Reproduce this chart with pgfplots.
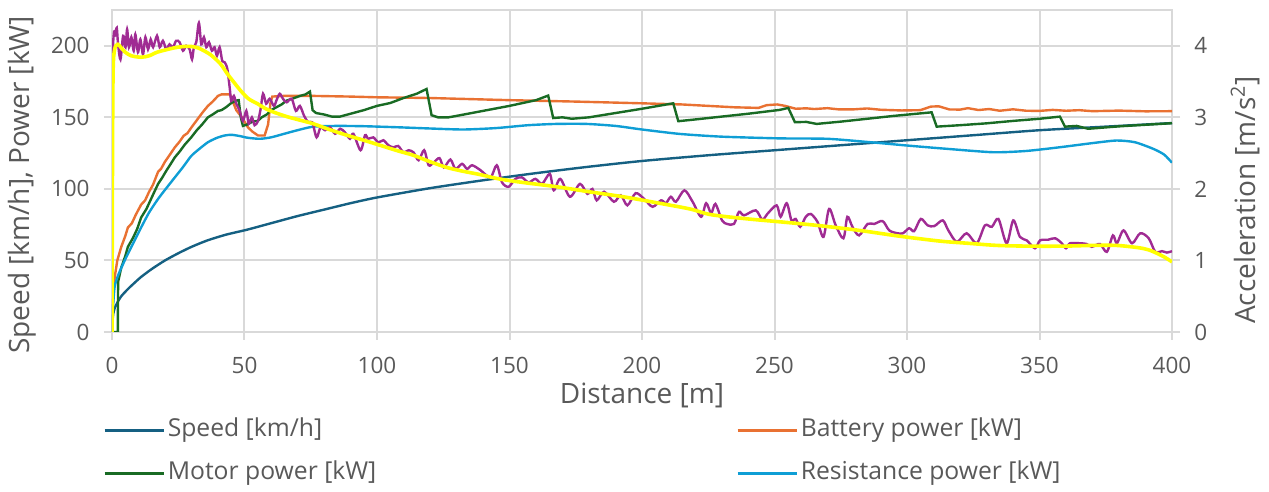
\documentclass[border=0pt]{standalone}
\usepackage{pgfplots}
\pgfplotsset{compat=1.18}
\usepackage{pgfplotstable}
\usepackage{fontspec}
\setmainfont{Open Sans}
\definecolor{cSpeed}{HTML}{156082}
\definecolor{cBatt}{HTML}{E97132}
\definecolor{cMotor}{HTML}{196B24}
\definecolor{cRes}{HTML}{0F9ED5}
\definecolor{cPurp}{HTML}{A02B93}
\definecolor{cYel}{HTML}{FFFF00}
\definecolor{cGrid}{HTML}{D9D9D9}
\definecolor{cText}{HTML}{595959}

\pgfplotstableread{
x y
0 0
0.2 8
0.5 13
1 16.5
2 20.5
3.5 25
6 30
8 33.5
11 38.5
15 44
20 50
25 55
30 59.5
36 64
43 68
51 71.5
60 76
70 81
80 85.5
90 90
100 94
120 100.5
140 106
160 111
180 115.5
200 119.5
225 123.5
250 127
275 130.5
300 134
325 137.5
350 141
375 143.5
400 146
}\speed

\pgfplotstableread{
x y
0 0
0.3 18
0.7 32
1 38
2 50
3.5 59.5
5 67
6 73
7.5 76
9 82
11 89
12.5 92
14 98
15.5 103
17.4 112
18.5 114
20 119
21.5 123
23.7 129
25.5 133
27 137
28.5 139
30 143
32 148
34 153
36.2 158
38 161
40 165
41.3 166
44.5 166
46.9 155
49 150
51.3 143
53 140
55.1 137.3
57.6 137.3
58.9 145
59.8 160
60.5 164.5
65 165
75 165
90 164.5
100 164
120 163.5
150 162
175 161
200 159.8
215 159
225 158
235 157
244 156.6
247 158.5
251 159
254 158
258 156
262 156.3
265 155.8
270 156.4
274 155.6
280 155.6
285 156.2
290 155.3
298 154.8
305 155
309 157.5
312 157.7
316 155.5
320 155.4
323 156.4
327 155.1
331 155.8
335 154.6
340 155.6
345 154.6
350 154.5
355 155.2
360 154.6
365 155
370 154.3
380 154.7
390 154.2
400 154.3
}\batt

\pgfplotstableread{
x y
0 0
2.2 0
2.3 35
3.5 45
5 53
6 59.5
8 66
9.5 72
11 80
13 86
14.5 92
16 98
17.4 103.5
19 108
20.6 113
22 117
23.7 122
25.5 126
27.5 131
29.9 136
32 141
34 145
36.2 150
38 152
40 154.5
41.3 155
43 157
45 160
46.9 161.7
47.8 162
48.6 150
49.4 144
51 145
53 147
55 147.5
56.5 150
58.4 152
60 155
62 157
64 159
65.9 161.7
68 163
71 165
73 166
74.7 168
75.7 155
77 153
80 152
83 150.5
86 150.5
90 152.5
95 155
100 158
105 160
110 163.5
115 166.5
118.7 169.8
120.6 151.5
123 150
127 150
130 151
140 154.5
150 158
160 162
164.6 165.2
166.5 149.5
170 150
173.5 149
180 150
190 153
200 156
211.8 159.8
213.7 147.3
220 148.5
230 150.5
240 152.5
252 155.2
255.2 156.6
257.7 146.6
262 146.8
265.9 145.4
275 147
285 149
295 151
309.3 153.5
311.2 143.5
320 144.5
330 145.8
340 147.5
350 149
357.7 150.5
359.6 143.5
364 144
368.4 142
380 143.7
390 144.8
400 145.9
}\motor

\pgfplotstableread{
x y
0 0
0.3 15
1 31.6
2.4 40
4.8 50
8 62
11.1 73.4
14 83.5
17.4 93
20.5 100.5
23.7 108
26.9 115.5
29.9 123
33 128
36.2 132.6
39.5 135.6
42.5 137.3
45 137.8
48 137
51.3 135.7
55.8 135
60 136
64.6 138.3
70 141
76 143.5
85 144
95 143.8
108.7 143
120 142.2
132.6 141.5
145 142.5
157 144.5
167.8 145.4
179 145.4
190 144
200 141.5
214.3 138.4
230 136.5
252 135.3
270 135
285 132.8
300 130.3
315 128
332.6 125.6
345 126.5
357.7 129.1
370 132
379.1 133.8
386 132.6
392.9 128
397 124
400 118.3
}\resist

\pgfplotstableread{
x y
0.3 3.55
0.4 4.0
0.8 4.2
1.25 4.16
1.8 4.25
2.3 4.02
3.2 3.81
4.2 4.14
5.1 3.98
5.7 4.23
6.4 3.98
7.3 4.12
8.2 3.93
8.8 4.16
9.8 3.91
10.7 4.09
11.7 3.88
12.6 4.12
13.6 3.95
14.6 4.09
15.5 3.98
17 4.14
18 3.98
19.2 4.07
20.5 3.95
21.7 4.02
23 3.98
24.2 4.07
25.5 4.05
26.8 3.93
28 4.0
29.3 3.95
30.2 3.81
30.9 3.98
31.8 4.05
32.8 4.32
33.7 4.02
34.7 4.12
35.6 3.98
36.6 4.05
37.7 3.93
38.7 3.98
39.6 3.86
40.6 3.98
41.6 3.79
42.5 3.77
43.5 3.68
44.4 3.42
45 3.23
46 3.30
46.9 3.19
48.2 3.09
49.4 2.95
50.7 3.09
51.6 2.91
52.8 3.0
53.8 2.89
55.1 2.95
56.1 3.12
57 3.33
58.2 3.19
59.5 3.26
61.1 3.16
62.2 3.25
63.3 3.33
64.5 3.26
65.9 3.21
67.8 3.26
69.4 3.09
70.9 3.16
72.5 3.02
74.1 2.93
75.6 2.93
77.2 2.72
78.7 2.86
80.4 2.82
82.3 2.86
84.2 2.77
86.1 2.84
87.9 2.79
89.8 2.70
91.1 2.77
93.8 2.54
95.5 2.75
96.7 2.70
98.6 2.72
100.5 2.65
102.4 2.68
104.3 2.61
106.2 2.58
108 2.60
110 2.51
111.9 2.54
113.8 2.51
115.7 2.40
117.8 2.54
119.5 2.33
121.4 2.37
123.6 2.43
125.2 2.30
127.7 2.41
129.6 2.28
132.1 2.35
134 2.28
135.9 2.33
139.1 2.26
142.8 2.16
145.2 2.33
147.2 2.09
149.7 2.03
152.2 2.14
154.7 2.16
157.2 2.09
159.8 2.14
162.3 2.07
165.2 2.21
166.7 1.98
169.2 2.14
172.8 1.89
176.6 2.07
179.4 1.93
181.3 2.0
182.9 1.84
185.7 1.96
189.4 1.82
192 1.91
194.5 1.77
197.6 1.94
200.8 1.86
204 1.75
207.2 1.84
209 1.80
210.9 1.89
212.8 1.82
216 1.98
219.1 1.82
222.3 1.61
224.2 1.80
226.1 1.66
227.7 1.79
230.2 1.56
232.1 1.51
234.7 1.51
236.6 1.68
238.5 1.63
242.9 1.70
245.4 1.57
247.3 1.65
250.8 1.77
252.3 1.61
254.6 1.80
256.4 1.56
258 1.58
259.7 1.47
261.8 1.61
263.7 1.65
266.2 1.54
268.5 1.33
270.6 1.72
273.1 1.49
276 1.31
277.5 1.61
279.4 1.47
281.9 1.35
285.1 1.51
287.6 1.51
290.8 1.55
293.3 1.42
296.4 1.38
298.5 1.38
300.8 1.45
302.7 1.41
305.2 1.58
307.8 1.49
310.3 1.48
313.5 1.56
315.6 1.42
318.8 1.26
322.5 1.38
326.3 1.24
329.4 1.49
332 1.47
334.5 1.58
337.6 1.24
340.1 1.56
342.6 1.33
345.2 1.28
348.3 1.17
350.2 1.28
353.3 1.29
355.9 1.31
358.4 1.24
360 1.17
361.5 1.24
365.3 1.24
367.8 1.23
369.7 1.19
372.8 1.23
375.4 1.12
377.7 1.35
379.2 1.24
381.7 1.42
384.9 1.24
388 1.38
391.2 1.31
393.7 1.12
396.2 1.13
398.1 1.11
400 1.13
}\accraw

\pgfplotstableread{
x y
0 0
0.15 2.0
0.4 3.6
1 3.95
2.2 4.02
3.5 3.97
5 3.91
7.3 3.86
11 3.84
14 3.86
17 3.91
20 3.94
23.4 3.97
27 3.99
30 3.99
32.5 3.97
34.7 3.93
37 3.88
39.8 3.79
41.5 3.72
43.5 3.61
46 3.49
48.6 3.37
51.5 3.26
54.9 3.19
58 3.12
61.2 3.07
66 3.01
71 2.96
76 2.91
82 2.83
88.6 2.75
95 2.68
101.1 2.61
108 2.53
113.7 2.47
120 2.38
126.3 2.30
132 2.25
138.9 2.20
146 2.14
155 2.09
167.8 2.03
180 1.96
192.9 1.89
205 1.81
218 1.72
226 1.64
240 1.58
252 1.54
266 1.49
282 1.42
297 1.34
312.5 1.27
323 1.24
334 1.21
346 1.20
359 1.20
370 1.21
379 1.21
387 1.18
391 1.15
394.3 1.10
397 1.05
400 0.98
}\accsmooth

\begin{document}
\begin{tikzpicture}
\useasboundingbox (-56pt,-80pt) rectangle (578.5pt,166pt);
\pgfplotsset{
  base/.style={
    scale only axis, width=530pt, height=161pt,
    at={(0pt,0pt)}, anchor=south west,
    xmin=0, xmax=400,
    tick align=outside, major tick length=4pt,
    every tick/.style={draw=cGrid, line width=1pt},
    /pgf/number format/assume math mode=true,
    ticklabel style={font=\fontsize{11.25}{13}\selectfont, text=cText, inner sep=0pt},
    label style={font=\fontsize{14}{16}\selectfont, text=cText},
  }
}
\begin{axis}[base,
  ymin=0, ymax=225,
  xtick={0,50,...,400}, ytick={0,50,...,200},
  xtick pos=bottom, ytick pos=left,
  grid=major, major grid style={draw=cGrid, line width=1pt},
  axis line style={draw=cGrid, line width=1pt},
  xticklabel style={anchor=center, yshift=-12.5pt},
  yticklabel style={anchor=east, xshift=-7pt},
  xlabel={Distance [m]},
  xlabel style={at={(axis description cs:0.5,-0.198)}, anchor=center},
  ylabel={Speed [km/h], Power [kW]},
  ylabel style={at={(axis description cs:-0.085,0.457)}, anchor=center},
  legend columns=2,
  legend cell align=left,
  legend image code/.code={\draw[#1] (0pt,0pt) -- (29.5pt,0pt);},
  legend style={at={(-0.0085,-0.258)}, anchor=north west, draw=none, fill=none,
    inner sep=0pt, row sep=6.5pt,
    font=\fontsize{12.35}{14}\selectfont, text=cText,
    nodes={inner sep=1.5pt, text height=9pt, text depth=3pt},
    /tikz/every even column/.append style={column sep=178.5pt}},
]
\addplot[cSpeed, line width=1.2pt, smooth, tension=0.4] table {\speed};
\addlegendentry{Speed [km/h]}
\addplot[cBatt, line width=1.2pt] table {\batt};
\addlegendentry{Battery power [kW]}
\addplot[cMotor, line width=1.2pt] table {\motor};
\addlegendentry{Motor power [kW]}
\addplot[cRes, line width=1.2pt, smooth, tension=0.4] table {\resist};
\addlegendentry{Resistance power [kW]}
\end{axis}
\begin{axis}[base,
  ymin=0, ymax=4.5,
  ytick={0,1,...,4}, ytick pos=right,
  hide x axis,
  axis line style={draw=none},
  yticklabel style={anchor=west, xshift=7pt},
  ylabel={Acceleration [m/s\textsuperscript{2}]},
  ylabel style={at={(axis description cs:1.069,0.41)}, anchor=center, rotate=0},
]
\addplot[cPurp, line width=1.2pt, smooth, tension=0.5] table {\accraw};
\addplot[cYel, line width=1.8pt, smooth, tension=0.5] table {\accsmooth};
\end{axis}
\end{tikzpicture}
\end{document}
